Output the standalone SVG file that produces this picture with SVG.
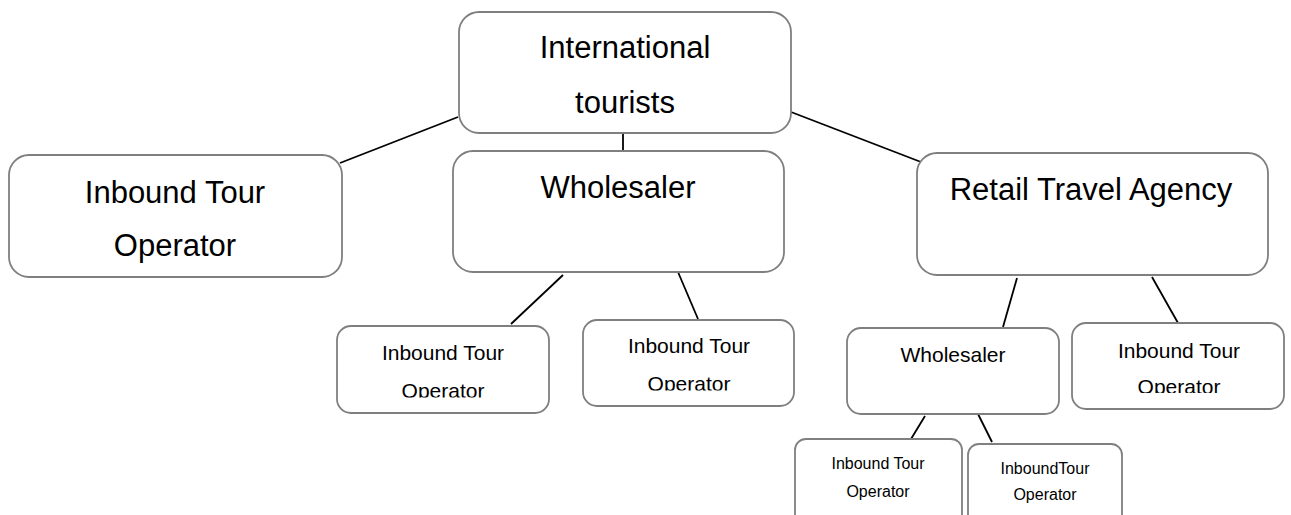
<svg xmlns="http://www.w3.org/2000/svg" width="1291" height="515" viewBox="0 0 1291 515">
<style>
.box{fill:#ffffff;stroke:#7f7f7f;stroke-width:1.8}
.ln{stroke:#000000;stroke-width:1.8;fill:none}
text{font-family:"Liberation Sans",Arial,sans-serif;fill:#000000;text-anchor:middle}
.l{font-size:31px}
.m{font-size:21px}
.s{font-size:16px}
</style>
<defs>
<clipPath id="cA"><rect x="330" y="320" width="230" height="77.5"/></clipPath>
<clipPath id="cB"><rect x="575" y="315" width="230" height="75.5"/></clipPath>
<clipPath id="cR"><rect x="1065" y="318" width="230" height="75"/></clipPath>
</defs>
<rect width="1291" height="515" fill="#ffffff"/>
<g id="connectors">
<line class="ln" x1="458" y1="117" x2="340" y2="163"/>
<line class="ln" x1="623" y1="133" x2="623" y2="151"/>
<line class="ln" x1="791" y1="112" x2="921" y2="162"/>
<line class="ln" x1="563" y1="275" x2="511" y2="324"/>
<line class="ln" x1="678" y1="272" x2="698" y2="319"/>
<line class="ln" x1="1017" y1="278" x2="1003" y2="327"/>
<line class="ln" x1="1152" y1="277" x2="1178" y2="323"/>
<line class="ln" x1="925" y1="416" x2="911" y2="439"/>
<line class="ln" x1="978" y1="414" x2="992" y2="442"/>
</g>
<g id="node-international-tourists">
<rect class="box" x="459" y="12" width="332" height="121" rx="20"/>
<text class="l" x="625" y="58">International</text>
<text class="l" x="625" y="113">tourists</text>
</g>
<g id="node-inbound-left">
<rect class="box" x="9" y="155" width="333" height="122" rx="20"/>
<text class="l" x="175" y="203">Inbound Tour</text>
<text class="l" x="175" y="256">Operator</text>
</g>
<g id="node-wholesaler">
<rect class="box" x="453" y="151" width="331" height="121" rx="20"/>
<text class="l" x="618" y="198">Wholesaler</text>
</g>
<g id="node-retail">
<rect class="box" x="917" y="153" width="351" height="122" rx="20"/>
<text class="l" x="1091" y="200">Retail Travel Agency</text>
</g>
<g id="node-inbound-a">
<rect class="box" x="337" y="326" width="212" height="87" rx="14"/>
<g clip-path="url(#cA)">
<text class="m" x="443" y="360">Inbound Tour</text>
<text class="m" x="443" y="398">Operator</text>
</g>
</g>
<g id="node-inbound-b">
<rect class="box" x="583" y="320" width="211" height="86" rx="14"/>
<g clip-path="url(#cB)">
<text class="m" x="689" y="353">Inbound Tour</text>
<text class="m" x="689" y="391">Operator</text>
</g>
</g>
<g id="node-wholesaler-small">
<rect class="box" x="847" y="328" width="212" height="86" rx="14"/>
<text class="m" x="953" y="362">Wholesaler</text>
</g>
<g id="node-inbound-right">
<rect class="box" x="1072" y="323" width="212" height="86" rx="14"/>
<g clip-path="url(#cR)">
<text class="m" x="1179" y="358">Inbound Tour</text>
<text class="m" x="1179" y="394">Operator</text>
</g>
</g>
<g id="node-inbound-c">
<rect class="box" x="795" y="439" width="167" height="90" rx="11"/>
<text class="s" x="878" y="469">Inbound Tour</text>
<text class="s" x="878" y="497">Operator</text>
</g>
<g id="node-inbound-d">
<rect class="box" x="968" y="444" width="154" height="85" rx="11"/>
<text class="s" x="1045" y="474">InboundTour</text>
<text class="s" x="1045" y="500">Operator</text>
</g>
</svg>
